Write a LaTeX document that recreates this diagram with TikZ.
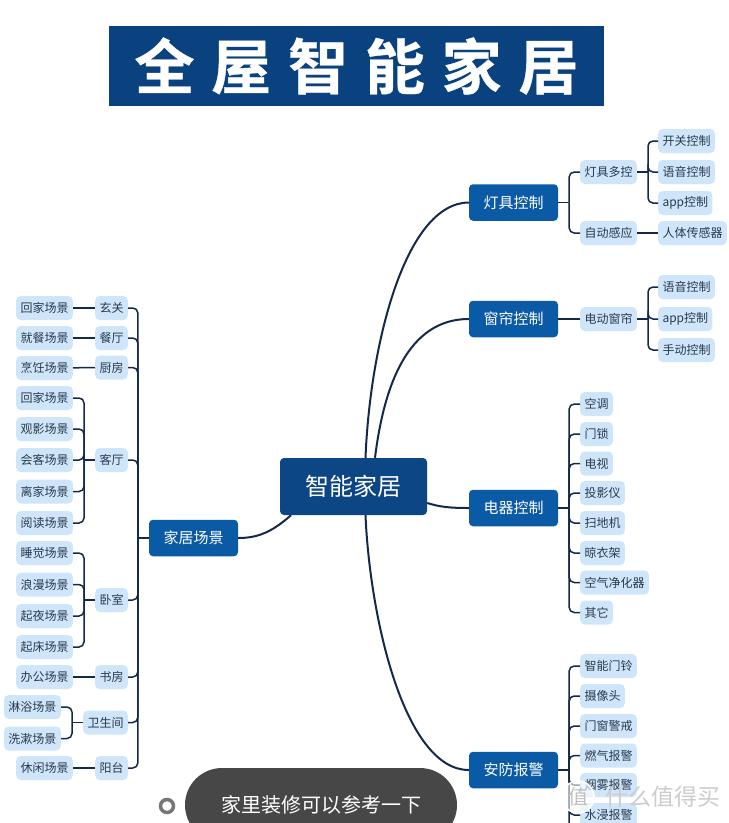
\documentclass[tikz,border=0pt]{standalone}
\usepackage{fontspec}
\setmainfont{Noto Sans CJK SC}
\newfontfamily\titlefont[LetterSpace=28,BoldFont={Noto Sans CJK SC Bold},BoldFeatures={FakeBold=0.6}]{Noto Sans CJK SC}
\usetikzlibrary{positioning}
\usetikzlibrary{calc}
\definecolor{rootblue}{HTML}{0C4684}
\definecolor{mainblue}{HTML}{0B5AA6}
\definecolor{titleblue}{HTML}{0A427F}
\definecolor{leafblue}{HTML}{CFE6FA}
\definecolor{linkdark}{HTML}{14294A}
\definecolor{leaftext}{HTML}{2A3A4C}
\definecolor{ringgray}{HTML}{777777}
\tikzset{
  rootbox/.style={draw=none,fill=rootblue,rounded corners=4,text=white,minimum width=147,minimum height=57,font=\fontsize{24}{28}\selectfont,inner sep=0},
  mainbox/.style={draw=none,fill=mainblue,rounded corners=4,text=white,minimum width=89,minimum height=36.5,font=\fontsize{15}{18}\selectfont,inner sep=0},
  leafbox/.style={draw=none,fill=leafblue,rounded corners=4.5,text=leaftext,minimum height=24,inner xsep=4.3,inner ysep=0,font=\fontsize{12}{14}\selectfont},
  trunkline/.style={draw=linkdark,line width=2},
  branchline/.style={draw=linkdark,line width=1.5,rounded corners=5},
}
\newcommand{\linkright}[2]{\draw[branchline] (#1.east) -- ++(11,0); \draw[branchline] ([xshift=11]#1.east) |- (#2.west);}
\newcommand{\linkleft}[2]{\draw[branchline] (#1.west) -- ++(-11,0); \draw[branchline] ([xshift=-11]#1.west) |- (#2.east);}
\begin{document}
\begin{tikzpicture}[x=1pt,y=-1pt]
    \clip (0,0) rectangle (729,823);
    \fill[white] (0,0) rectangle (729,823);

    % title
    \node[fill=titleblue,minimum width=495,minimum height=80,inner sep=0] (banner) at (356.5,66)
        {\titlefont\bfseries\fontsize{60}{64}\selectfont\textcolor{white}{全屋智能家居}};

    % centre and main topics
    \node[rootbox] (root) at (353.5,486.5) {智能家居};
    \node[mainbox] (lamp) at (513.5,202.5) {灯具控制};
    \node[mainbox] (curtain) at (513.5,319) {窗帘控制};
    \node[mainbox] (device) at (513.5,508) {电器控制};
    \node[mainbox] (security) at (513.5,770) {安防报警};
    \node[mainbox] (scene) at (193.5,538) {家居场景};

    \draw[trunkline] ([xshift=12]root.north) .. controls (370,345) and (405,203) .. (lamp.west);
    \draw[trunkline] ([xshift=21.5]root.north) .. controls (384,385) and (408,319) .. (curtain.west);
    \draw[trunkline] ([yshift=-16.5]root.east) .. controls (440,507) and (450,508) .. (device.west);
    \draw[trunkline] ([xshift=12]root.south) .. controls (370,620) and (405,770) .. (security.west);
    \draw[trunkline] ([xshift=-62.5]root.south) .. controls (272,532) and (258,538) .. (scene.east);

    % right side, second level
    \foreach \y/\name/\txt in {172/lampmulti/灯具多控,233/lampauto/自动感应,319/curtainmotor/电动窗帘,
        404/dev1/空调,434/dev2/门锁,463.5/dev3/电视,493/dev4/投影仪,523/dev5/扫地机,553/dev6/晾衣架,582.5/dev7/空气净化器,612.5/dev8/其它,
        666/sec1/智能门铃,696/sec2/摄像头,726/sec3/门窗警戒,755.5/sec4/燃气报警,785/sec5/烟雾报警,815/sec6/水浸报警}
      \node[leafbox,anchor=west] (\name) at (580,\y) {\txt};

    % right side, third level
    \foreach \y/\name/\txt in {141/lamp1/开关控制,172/lamp2/语音控制,203/lamp3/app控制,233/lamp4/人体传感器,
        287/curt1/语音控制,319/curt2/app控制,350/curt3/手动控制}
      \node[leafbox,anchor=west] (\name) at (658,\y) {\txt};

    \foreach \kid in {lampmulti,lampauto} {\linkright{lamp}{\kid}}
    \draw[branchline] (curtain) -- (curtainmotor);
    \foreach \kid in {1,...,8} {\linkright{device}{dev\kid}}
    \foreach \kid in {1,...,6} {\linkright{security}{sec\kid}}
    \coordinate (securityend) at (569,830);
    \draw[branchline] ([xshift=11]security.east) -- (securityend);
    \foreach \kid in {1,2,3} {\linkright{lampmulti}{lamp\kid}}
    \draw[branchline] (lampauto) -- (lamp4);
    \foreach \kid in {1,2,3} {\linkright{curtainmotor}{curt\kid}}

    % left side, rooms
    \foreach \y/\name/\txt in {308/hall/玄关,338/dining/餐厅,367.5/kitchen/厨房,460/living/客厅,600/bedroom/卧室,677/study/书房,722.5/bath/卫生间,768/balcony/阳台}
      \node[leafbox,anchor=east] (\name) at (128,\y) {\txt};

    % left side, scenes
    \foreach \y/\name/\txt in {308/hall1/回家场景,338/dining1/就餐场景,368/kitchen1/烹饪场景,
        398/living1/回家场景,429/living2/观影场景,460/living3/会客场景,491.5/living4/离家场景,523/living5/阅读场景,
        553/bed1/睡觉场景,584.5/bed2/浪漫场景,616/bed3/起夜场景,647/bed4/起床场景,
        677/study1/办公场景,768/balcony1/休闲场景}
      \node[leafbox,anchor=east] (\name) at (73,\y) {\txt};
    \node[leafbox,anchor=east] (bath1) at (61,707) {淋浴场景};
    \node[leafbox,anchor=east] (bath2) at (61,738.5) {洗漱场景};

    \foreach \kid in {hall,dining,kitchen,living,bedroom,study,bath,balcony} {\linkleft{scene}{\kid}}
    \draw[branchline] (hall) -- (hall1);
    \draw[branchline] (dining) -- (dining1);
    \draw[branchline] (kitchen) -- (kitchen1);
    \foreach \kid in {1,...,5} {\linkleft{living}{living\kid}}
    \foreach \kid in {1,...,4} {\linkleft{bedroom}{bed\kid}}
    \draw[branchline] (study) -- (study1);
    \foreach \kid in {1,2} {\linkleft{bath}{bath\kid}}
    \draw[branchline] (balcony) -- (balcony1);

    % caption bubble and watermark
    \node[circle,draw=ringgray,fill=white,line width=3.5,minimum size=13,inner sep=0] (dot) at (167,806) {};
    \node[fill=black!72,rounded corners=37,minimum width=272,minimum height=74,inner sep=0,text=white,font=\fontsize{20}{24}\selectfont] (bubble) at (321,805) {家里装修可以参考一下};
    \node[circle,draw=white,line width=1.5,fill=white,fill opacity=0.6,text opacity=1,text=gray!50,minimum size=32,inner sep=0,font=\fontsize{20}{24}\selectfont] (markzhi) at (578,797) {值};
    \node[anchor=west,text=gray!40,inner sep=0,font=\fontsize{23}{27}\selectfont] (marktext) at (605,797) {什么值得买};
\end{tikzpicture}
\end{document}
